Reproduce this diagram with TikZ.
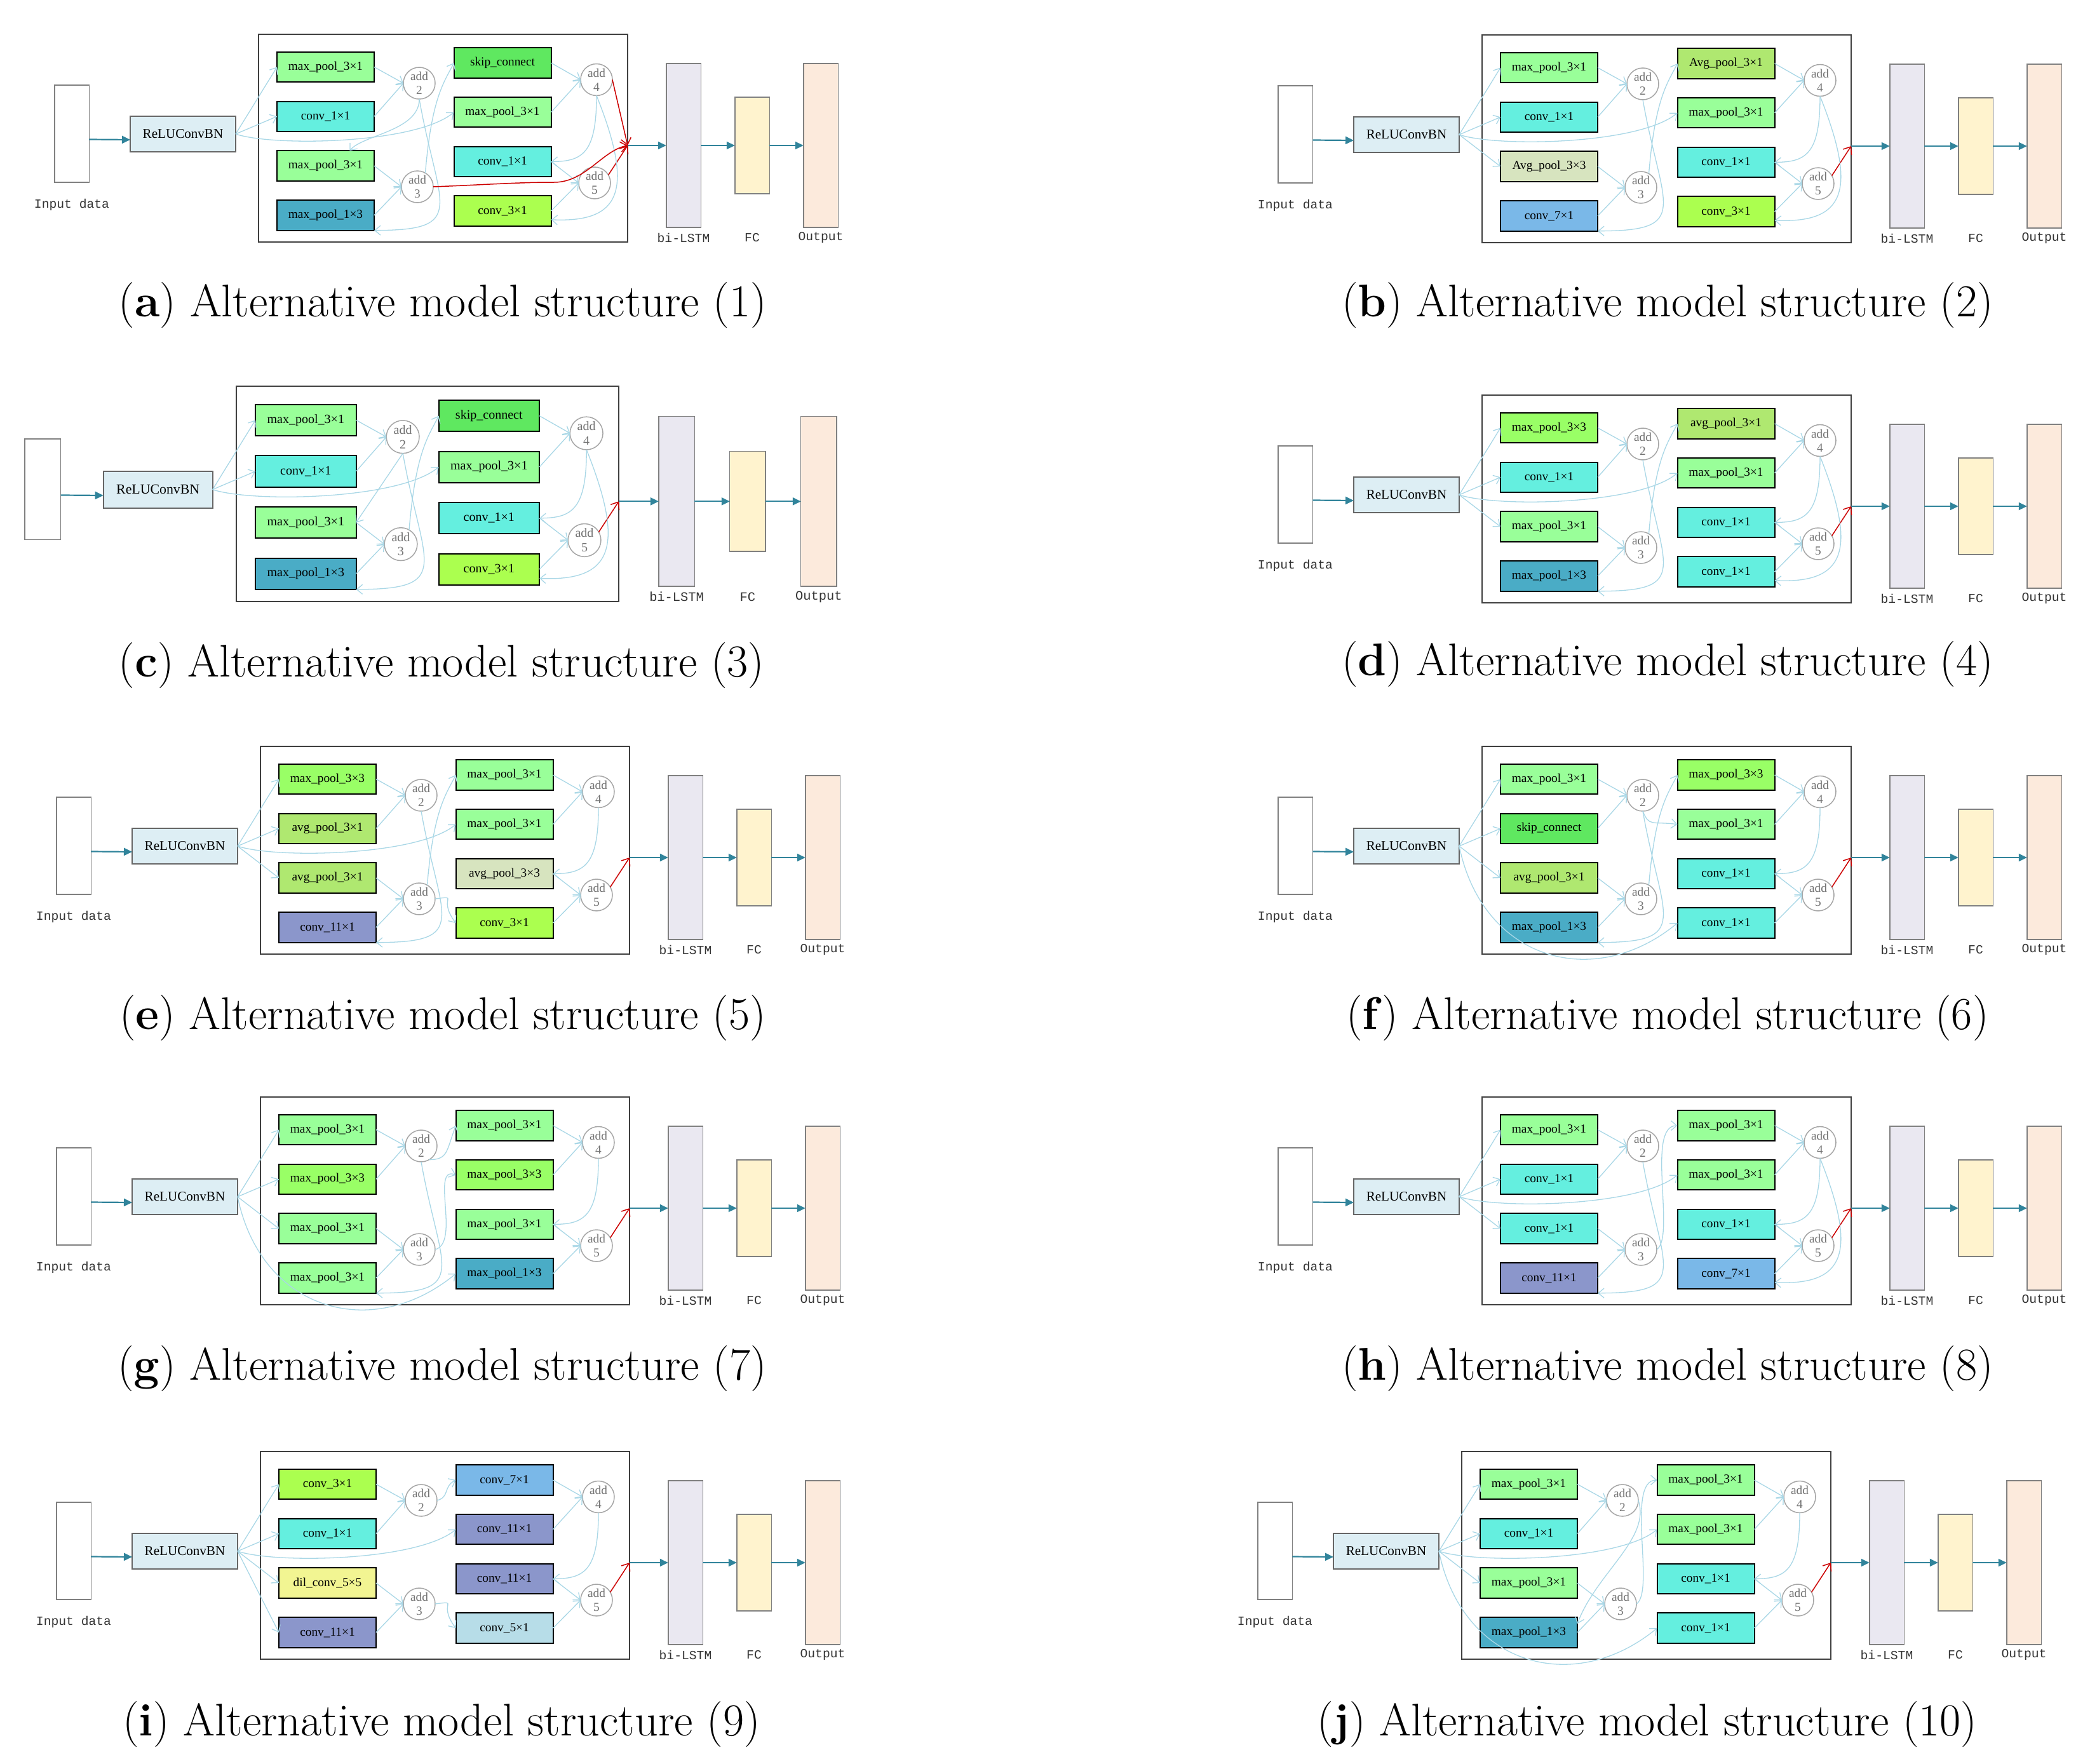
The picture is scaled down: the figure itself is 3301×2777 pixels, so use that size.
\documentclass[tikz,border=0pt]{standalone}
\usepackage{fontspec}
\usetikzlibrary{arrows.meta}
\newfontfamily\boxfont{Liberation Serif}
\newfontfamily\lblfont{Liberation Mono}
\definecolor{cpg}{HTML}{99FF99}
\definecolor{ctq}{HTML}{64EFDF}
\definecolor{cmp}{HTML}{4AACC6}
\definecolor{csk}{HTML}{5FE860}
\definecolor{cgy}{HTML}{ABFF4F}
\definecolor{cmt}{HTML}{99FF66}
\definecolor{cav}{HTML}{AFE870}
\definecolor{cavt}{HTML}{D7E4BF}
\definecolor{ccs}{HTML}{7AB8E8}
\definecolor{cce}{HTML}{8B96CB}
\definecolor{cdil}{HTML}{F2F592}
\definecolor{ccf}{HTML}{B7DDE8}
\definecolor{crelu}{HTML}{DDEEF4}
\definecolor{clstm}{HTML}{EAE8F1}
\definecolor{cfc}{HTML}{FFF3CE}
\definecolor{cout}{HTML}{FCEADC}
\definecolor{cteal}{HTML}{31849B}
\definecolor{cconn}{HTML}{A9D7E6}
\definecolor{cred}{HTML}{CC0000}
\tikzset{
 opbox/.style={draw=black, line width=0.2mm, minimum width=15.3mm, minimum height=4.75mm, inner sep=0pt, outer sep=0pt, font=\boxfont\fontsize{5.5}{6.5}\selectfont},
 addn/.style={circle, draw=black!35, line width=0.15mm, fill=white, minimum size=5mm, inner sep=0pt, outer sep=0pt, align=center, text=black!55, font=\boxfont\fontsize{5.5}{6.3}\selectfont},
 bigbox/.style={draw=black!75, line width=0.25mm, minimum width=58.1mm, minimum height=32.7mm, inner sep=0pt, outer sep=0pt},
 colbar/.style={draw=black!50, line width=0.15mm, minimum width=5.45mm, inner sep=0pt, outer sep=0pt},
 relubox/.style={draw=black!60, fill=crelu, line width=0.18mm, minimum width=16.6mm, minimum height=5.6mm, inner sep=0pt, outer sep=0pt, font=\boxfont\fontsize{6}{7}\selectfont},
 lbl/.style={font=\lblfont\fontsize{5.6}{6.5}\selectfont, text=black!80, inner sep=0pt},
 conn/.style={draw=cconn, line width=0.13mm, -{Straight Barb[length=0.9mm,width=1.5mm]}},
 redc/.style={draw=cred, line width=0.15mm, -{Straight Barb[length=1mm,width=1.6mm]}},
 tarrow/.style={draw=cteal, line width=0.22mm, -{Triangle[length=1.3mm,width=1.2mm]}},
 capt/.style={font=\fontsize{20.5}{24}\selectfont, inner sep=0pt, anchor=base},
}
\newcommand\cellpanel[4]{%
 \node[bigbox] (#1-box) at (290.5,163.5) {};
 \node[colbar, fill=white, minimum height=15.3mm] (#1-in) at (-294,156.5) {};
 \def\tmplabel{#4}\ifx\tmplabel\empty\else\node[lbl] (#1-inl) at (-294,268) {#4};\fi
 \node[relubox] (#1-relu) at (-119,157) {ReLUConvBN};
 \foreach \t/\c [count=\i] in {#2} {\node[opbox, fill=\c] (#1-L\i) at (105.5,{51.5+77.8*(\i-1)}) {\t};}
 \foreach \t/\c [count=\i] in {#3} {\node[opbox, fill=\c] (#1-R\i) at (384,{45+77.7*(\i-1)}) {\t};}
 \node[addn] (#1-a2) at (253,77) {add\\2};
 \node[addn] (#1-a3) at (250,240) {add\\3};
 \node[addn] (#1-a4) at (532,71.5) {add\\4};
 \node[addn] (#1-a5) at (529,234) {add\\5};
 \coordinate (#1-m) at (581,175);
 \node[colbar, fill=clstm, minimum height=25.8mm] (#1-lstm) at (669,175) {};
 \node[colbar, fill=cfc, minimum height=15.2mm] (#1-fc) at (777,175) {};
 \node[colbar, fill=cout, minimum height=25.8mm] (#1-out) at (885,175) {};
 \node[lbl] (#1-lstml) at (669,320) {bi-LSTM};
 \node[lbl] (#1-fcl) at (777,320) {FC};
 \node[lbl] (#1-outl) at (885,320) {Output};
 \draw[tarrow] ([yshift=-0.9mm]#1-in.east) -- ([yshift=-0.9mm]#1-relu.west);
 \draw[tarrow] (#1-m) -- (#1-lstm.west);
 \draw[tarrow] (#1-lstm.east) -- (#1-fc.west);
 \draw[tarrow] (#1-fc.east) -- (#1-out.west);
 \draw[conn] (#1-relu.east) -- (#1-L1.west);
 \draw[conn] (#1-relu.east) -- (#1-L2.west);
 \draw[conn] (#1-L1.east) -- (#1-a2.west);
 \draw[conn] (#1-L2.east) -- (#1-a2.west);
 \draw[conn] (#1-L3.east) -- (#1-a3.west);
 \draw[conn] (#1-L4.east) -- (#1-a3.west);
 \draw[conn] (#1-R1.east) -- (#1-a4.west);
 \draw[conn] (#1-R2.east) -- (#1-a4.west);
 \draw[conn] (#1-R3.east) -- (#1-a5.west);
 \draw[conn] (#1-R4.east) -- (#1-a5.west);
 \draw[conn] (#1-a4.south) .. controls +(0,90) and +(50,0) .. (#1-R3.east);
 \draw[redc] (#1-a5.30) -- (#1-m);
}
\newcommand\reluR[2]{\draw[conn] (#1-relu.east) .. controls +(60,20) and +(-60,50) .. (#1-#2.west);}
\newcommand\reluLow[2]{\draw[conn] (#1-relu.east) .. controls +(37,180) and +(-131,108) .. (#1-#2.west);}
\newcommand\aTwoLoop[1]{\draw[conn] (#1-a2.south) .. controls +(30,170) and +(150,0) .. (#1-L4.south east);}
\newcommand\aThreeUp[2]{\draw[conn] (#1-a3.60) .. controls +(10,-120) and +(-15,30) .. (#1-#2.west);}
\newcommand\aThreeHook[2]{\draw[conn] (#1-a3.east) .. controls +(30,-20) and +(-50,0) .. (#1-#2.west);}
\newcommand\aFourLoop[1]{\draw[conn] (#1-a4.south) .. controls +(60,150) and +(110,5) .. ([yshift=1mm]#1-R4.south east);}
\begin{document}
\begin{tikzpicture}[x=0.1mm,y=-0.1mm]
\useasboundingbox (0,0) rectangle (3301,2777);
% (a)
\begin{scope}[shift={(407,54)}]
\cellpanel{a}{max\_pool\_3×1/cpg,conv\_1×1/ctq,max\_pool\_3×1/cpg,max\_pool\_1×3/cmp}{skip\_connect/csk,max\_pool\_3×1/cpg,conv\_1×1/ctq,conv\_3×1/cgy}{Input data}
\reluR{a}{R2}
\draw[conn] (a-a2.south) .. controls +(0,50) and +(20,-25) .. ([xshift=3.8mm]a-L3.north);
\aTwoLoop{a}
\aThreeUp{a}{R1}
\aFourLoop{a}
\draw[redc] (a-a4.east) -- (a-m);
\draw[redc] (a-a3.east) .. controls +(80,-3) and +(-60,0) .. (465,233) .. controls +(50,0) and +(-40,8) .. (a-m);
\end{scope}
% (b)
\begin{scope}[shift={(2333,55)}]
\cellpanel{b}{max\_pool\_3×1/cpg,conv\_1×1/ctq,Avg\_pool\_3×3/cavt,conv\_7×1/ccs}{Avg\_pool\_3×1/cav,max\_pool\_3×1/cpg,conv\_1×1/ctq,conv\_3×1/cgy}{Input data}
\draw[conn] (b-relu.east) -- (b-L3.west);
\reluR{b}{R2}
\aTwoLoop{b}
\aThreeUp{b}{R1}
\aFourLoop{b}
\end{scope}
% (c)
\begin{scope}[shift={(372,608)},scale=1.036,transform shape]
\cellpanel{c}{max\_pool\_3×1/cpg,conv\_1×1/ctq,max\_pool\_3×1/cpg,max\_pool\_1×3/cmp}{skip\_connect/csk,max\_pool\_3×1/cpg,conv\_1×1/ctq,conv\_3×1/cgy}{}
\reluR{c}{R2}
\draw[conn] (c-a2.south) -- (c-L3.east);
\aTwoLoop{c}
\aThreeUp{c}{R1}
\aFourLoop{c}
\end{scope}
% (d)
\begin{scope}[shift={(2333,622)}]
\cellpanel{d}{max\_pool\_3×3/cmt,conv\_1×1/ctq,max\_pool\_3×1/cpg,max\_pool\_1×3/cmp}{avg\_pool\_3×1/cav,max\_pool\_3×1/cpg,conv\_1×1/ctq,conv\_1×1/ctq}{Input data}
\draw[conn] (d-relu.east) -- (d-L3.west);
\reluR{d}{R2}
\aTwoLoop{d}
\aThreeUp{d}{R1}
\aFourLoop{d}
\end{scope}
% (e)
\begin{scope}[shift={(410,1175)}]
\cellpanel{e}{max\_pool\_3×3/cmt,avg\_pool\_3×1/cav,avg\_pool\_3×1/cav,conv\_11×1/cce}{max\_pool\_3×1/cpg,max\_pool\_3×1/cpg,avg\_pool\_3×3/cavt,conv\_3×1/cgy}{Input data}
\draw[conn] (e-relu.east) -- (e-L3.west);
\reluR{e}{R2}
\aTwoLoop{e}
\aThreeUp{e}{R1}
\draw[conn] (e-a3.east) .. controls +(40,-5) and +(-30,-40) .. (e-R4.west);
\end{scope}
% (f)
\begin{scope}[shift={(2333,1175)}]
\cellpanel{f}{max\_pool\_3×1/cpg,skip\_connect/csk,avg\_pool\_3×1/cav,max\_pool\_1×3/cmp}{max\_pool\_3×3/cmt,max\_pool\_3×1/cpg,conv\_1×1/ctq,conv\_1×1/ctq}{Input data}
\draw[conn] (f-relu.east) -- (f-L3.west);
\reluLow{f}{R4}
\draw[conn] (f-a2.south) .. controls +(10,25) and +(-40,-5) .. (f-R2.west);
\aTwoLoop{f}
\aThreeUp{f}{R1}
\end{scope}
% (g)
\begin{scope}[shift={(410,1727)}]
\cellpanel{g}{max\_pool\_3×1/cpg,max\_pool\_3×3/cmt,max\_pool\_3×1/cpg,max\_pool\_3×1/cpg}{max\_pool\_3×1/cpg,max\_pool\_3×3/cmt,max\_pool\_3×1/cpg,max\_pool\_1×3/cmp}{Input data}
\draw[conn] (g-relu.east) -- (g-L3.west);
\reluLow{g}{R4}
\draw[conn] (g-a2.-60) .. controls +(30,0) and +(-15,40) .. (g-R1.west);
\draw[conn] (g-a3.east) .. controls +(40,-10) and +(-40,-15) .. (g-R2.west);
\aTwoLoop{g}
\end{scope}
% (h)
\begin{scope}[shift={(2333,1727)}]
\cellpanel{h}{max\_pool\_3×1/cpg,conv\_1×1/ctq,conv\_1×1/ctq,conv\_11×1/cce}{max\_pool\_3×1/cpg,max\_pool\_3×1/cpg,conv\_1×1/ctq,conv\_7×1/ccs}{Input data}
\draw[conn] (h-relu.east) -- (h-L3.west);
\reluR{h}{R2}
\aTwoLoop{h}
\aThreeHook{h}{R1}
\aFourLoop{h}
\end{scope}
% (i)
\begin{scope}[shift={(410,2285)}]
\cellpanel{i}{conv\_3×1/cgy,conv\_1×1/ctq,dil\_conv\_5×5/cdil,conv\_11×1/cce}{conv\_7×1/ccs,conv\_11×1/cce,conv\_11×1/cce,conv\_5×1/ccf}{Input data}
\draw[conn] (i-relu.east) -- (i-L3.west);
\draw[conn] (i-relu.east) -- (i-L4.west);
\reluR{i}{R2}
\draw[conn] (i-a2.east) .. controls +(20,-5) and +(-20,10) .. (i-R1.west);
\draw[conn] (i-a3.east) .. controls +(40,-5) and +(-30,-40) .. (i-R4.west);
\end{scope}
% (j)
\begin{scope}[shift={(2301,2285)}]
\cellpanel{j}{max\_pool\_3×1/cpg,conv\_1×1/ctq,max\_pool\_3×1/cpg,max\_pool\_1×3/cmp}{max\_pool\_3×1/cpg,max\_pool\_3×1/cpg,conv\_1×1/ctq,conv\_1×1/ctq}{Input data}
\draw[conn] (j-relu.east) -- (j-L3.west);
\reluR{j}{R2}
\reluLow{j}{R4}
\draw[conn] (j-a2.east) .. controls +(20,60) and +(30,-80) .. ([yshift=-1mm]j-L4.north east);
\aThreeHook{j}{R1}
\end{scope}
% captions
\node[capt] (capa) at (697,498) {(\textbf{a}) Alternative model structure (1)};
\node[capt] (capb) at (2625,498) {(\textbf{b}) Alternative model structure (2)};
\node[capt] (capc) at (695,1065) {(\textbf{c}) Alternative model structure (3)};
\node[capt] (capd) at (2625,1063) {(\textbf{d}) Alternative model structure (4)};
\node[capt] (cape) at (697,1620) {(\textbf{e}) Alternative model structure (5)};
\node[capt] (capf) at (2625,1620) {(\textbf{f}) Alternative model structure (6)};
\node[capt] (capg) at (696,2172) {(\textbf{g}) Alternative model structure (7)};
\node[capt] (caph) at (2625,2172) {(\textbf{h}) Alternative model structure (8)};
\node[capt] (capi) at (695,2732) {(\textbf{i}) Alternative model structure (9)};
\node[capt] (capj) at (2593,2732) {(\textbf{j}) Alternative model structure (10)};
\end{tikzpicture}
\end{document}
